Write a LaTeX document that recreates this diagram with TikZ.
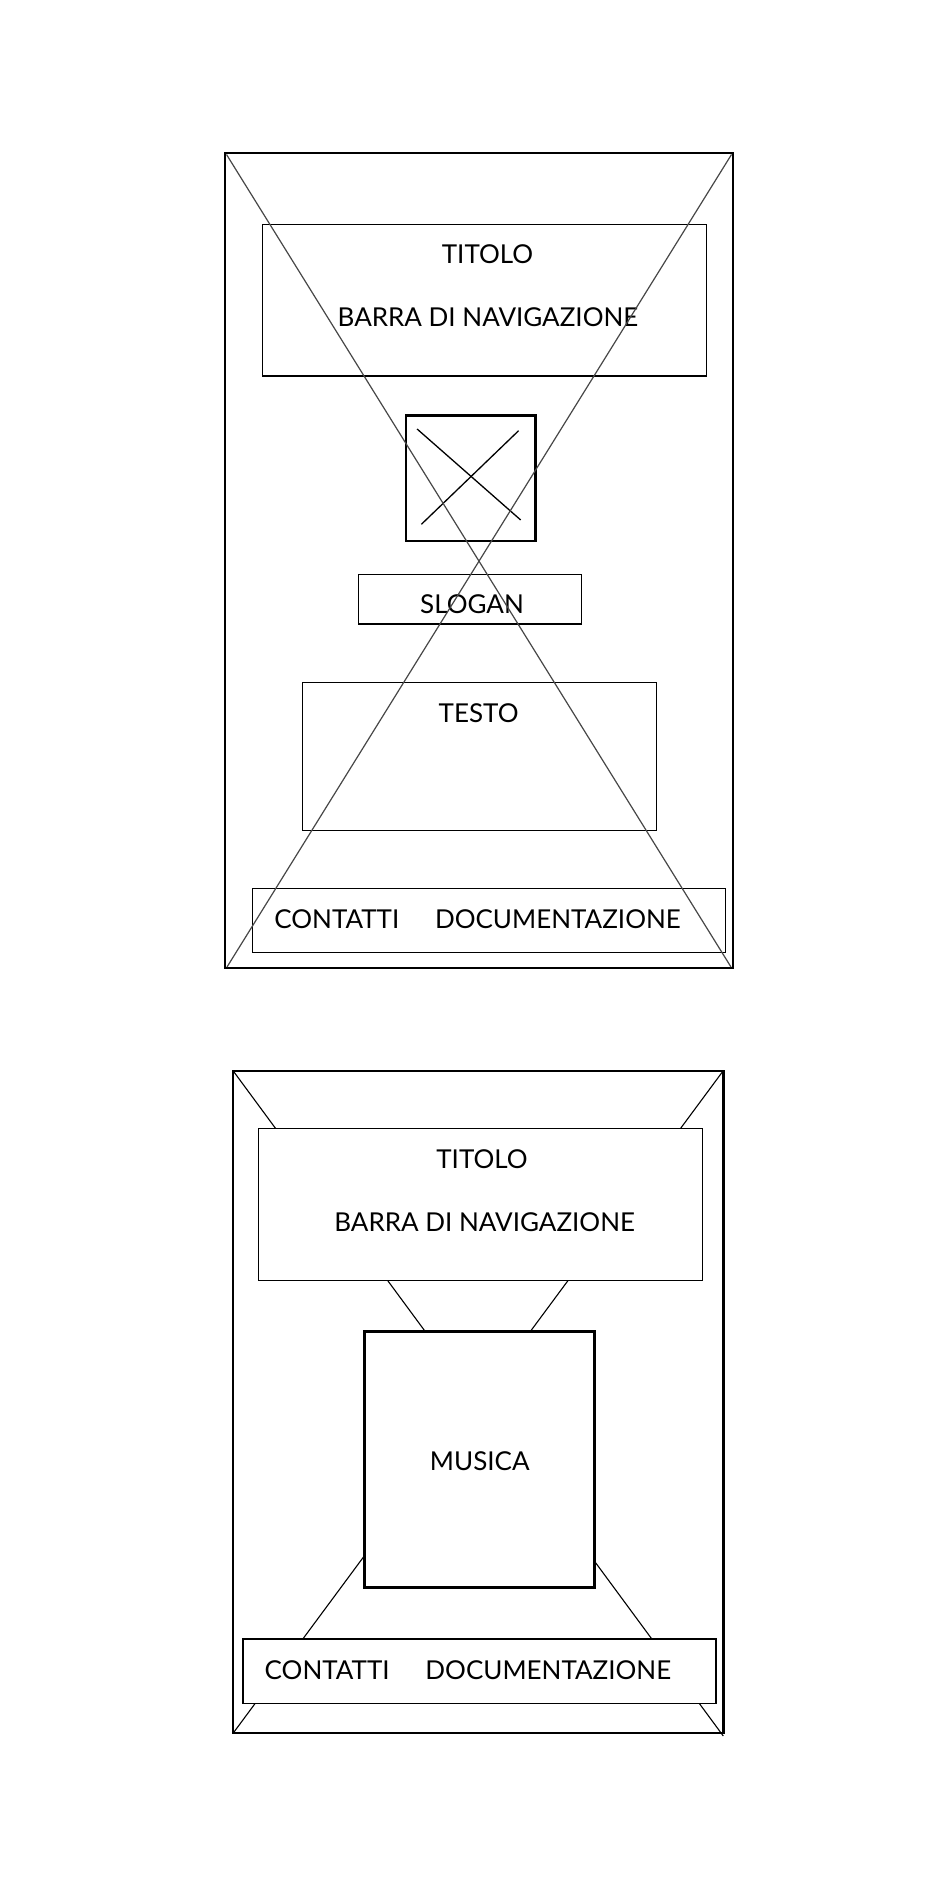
\documentclass[tikz,border=0pt]{standalone}
\usepackage{fontspec}
\setmainfont{Lato}
\begin{document}
\begin{tikzpicture}[x=0.5pt,y=-0.5pt,
  thickbox/.style={draw=black,line width=1.25pt},
  thinbox/.style={draw=black,line width=0.65pt},
  xline/.style={draw=black!72,line width=0.6pt},
  bxline/.style={draw=black,line width=0.55pt},
  lbl/.style={inner sep=0pt,font=\fontsize{13pt}{15pt}\selectfont}]
\useasboundingbox[fill=white] (0,0) rectangle (949,1901);
% ---------- top wireframe ----------
\coordinate (o1tl) at (225,153);
\coordinate (o1tr) at (733,153);
\coordinate (o1bl) at (225,968);
\coordinate (o1br) at (733,968);
\draw[thickbox] (o1tl) rectangle (o1br);
\draw[thinbox] (262.5,224.5) rectangle (706.4,376);
\node[lbl,anchor=base] (t1) at (487.5,263.3) {TITOLO};
\node[lbl,anchor=base] (n1) at (488,326.7) {BARRA DI NAVIGAZIONE};
\draw[thickbox] (406.1,415.7) rectangle (535.7,541);
\coordinate (ia1) at (417.1,429);
\coordinate (ia2) at (520.7,520);
\coordinate (ib1) at (518.6,430.7);
\coordinate (ib2) at (421.4,524.3);
\draw[bxline,line width=0.65pt] (ia1) -- (ia2);
\draw[bxline,line width=0.65pt] (ib1) -- (ib2);
\draw[thinbox] (358.2,574.3) rectangle (581.4,624);
\node[lbl,anchor=base] (s1) at (472,613.3) {SLOGAN};
\draw[thinbox] (302.5,682.7) rectangle (656.4,830.7);
\node[lbl,anchor=base] (te1) at (478.6,722.3) {TESTO};
\draw[thinbox] (252.5,888.3) rectangle (725.4,952.7);
\node[lbl,anchor=base west] (c1) at (273.9,928.3) {CONTATTI};
\node[lbl,anchor=base west] (d1) at (434.6,928.3) {DOCUMENTAZIONE};
\draw[xline] ([shift={(1.5,1.5)}]o1tl) -- ([shift={(-2,-1)}]o1br);
\draw[xline] ([shift={(-1.5,1.5)}]o1tr) -- ([shift={(2,-1)}]o1bl);
% ---------- bottom wireframe ----------
\coordinate (o2tl) at (233,1071);
\coordinate (o2tr) at (723.3,1071);
\coordinate (o2bl) at (233,1733);
\coordinate (o2br) at (723.3,1733);
\draw[bxline] ([shift={(1,1)}]o2tl) -- ([shift={(0,3)}]o2br);
\draw[bxline] ([shift={(-1,1)}]o2tr) -- ([shift={(1,-1)}]o2bl);
\draw[thickbox] (o2tl) rectangle (o2br);
\draw[thinbox,fill=white] (258.2,1128.7) rectangle (702.5,1280.7);
\node[lbl,anchor=base] (t2) at (482,1168.3) {TITOLO};
\node[lbl,anchor=base] (n2) at (484.7,1231) {BARRA DI NAVIGAZIONE};
\draw[thickbox,fill=white] (364.3,1331.3) rectangle (594.6,1587.7);
\node[lbl,anchor=base] (m2) at (479.8,1470.7) {MUSICA};
\draw[thinbox,fill=white] (242.9,1639) rectangle (716.1,1703.3);
\node[lbl,anchor=base west] (c2) at (264.3,1679) {CONTATTI};
\node[lbl,anchor=base west] (d2) at (425,1679) {DOCUMENTAZIONE};
\end{tikzpicture}
\end{document}
